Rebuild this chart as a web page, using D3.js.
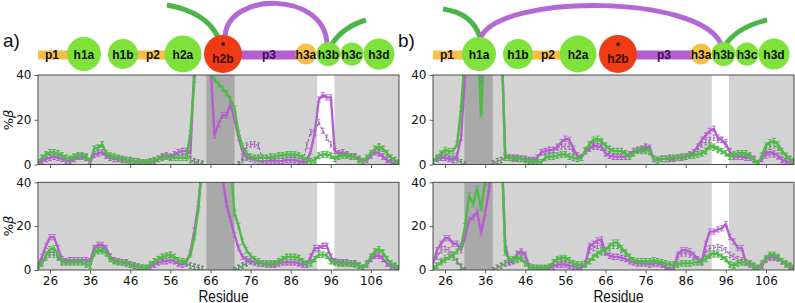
<!DOCTYPE html>
<html><head><meta charset="utf-8">
<script src="https://cdn.jsdelivr.net/npm/d3@7"></script>
<style>body{margin:0;background:#fff;} svg{display:block;}</style>
</head><body><svg id="c" width="795" height="303"></svg>
<script>
// ---------------- DATA ----------------
const residues = d3.range(23, 114); // 23..113
const xTicks = [26, 36, 46, 56, 66, 76, 86, 96, 106];
const yTicks = [0, 20, 40];
const topoNames = ["p1","h1a","h1b","p2","h2a","h2b","p3","h3a","h3b","h3c","h3d"];
const darkBandA = [65, 72], whiteBandA = [92.6, 96.9];
const darkBandB = [30.8, 37.9], whiteBandB = [92.5, 96.8];
const errSize = 1.2;
const _ = null;

// panel a, upper
const aTopPurple = [0.5,1.5,2.5,3,3.5,3,2.5,1.5,1.5,2.5, 3.5,3.5,3,1,4.5,5,5.5,4,3,2.5, 2.5,2,2,1.5,1.5,1,0.5,0.5,1,1.5,
 2.5,3.5,4,3.5,4.5,5.5,6,6,5,45, 60,60,60,45,13,18,22,22,27,20, 12,6,3,2.5,2,1.5,1.5,1.5,1.5,1.5,
 1.5,1.5,2,2,2,1.5,1,1,6,14, 29,31,30,30,6,5,5.5,4.5,3.5,3.5, 2.5,1.5,2,4,5.5,5,3.5,2,1,0.5, 0.5];
const aTopPurpleDash = [0.5,1.5,2.5,3,3.5,3,2.5,1.5,1.5,2.5, 3.5,3.5,3,1,4.5,5,5.5,4,3,2.5, 2.5,2,2,1.5,1.5,1,0.5,0.5,1,1.5,
 2.5,3.5,4,3.5,4.5,5.5,6,6,2,1, 0.5,0,_,_,_,_,_,_,_,_, 0,3,8.5,9,9,8.5,2,1.5,1.5,1.5,
 1.5,1.5,2,2,2,1.5,1,8.5,14.5,14.5, 19,15,12,9,6,5,5.5,4.5,3.5,3.5, 2.5,1.5,2,4,5.5,5,3.5,2,1,0.5, 0.5];
const aTopGreen = [1,3,4.5,5.5,5.5,5,4,3,2.5,3.5, 4,4,3.5,1.5,7,7.5,9,5,4,3.5, 3,2.5,2,2,1.5,1.5,1,1,1.5,2,
 2.5,3,3.5,3,3,3,3,3,14,38, 60,60,48,41,38,36,34,32,29,25, 14,8,5,3.5,3,3,3,3,3.5,3.5,
 4,4,4.5,4.5,4.5,4,3,2,1.5,2, 4,4.5,4.5,4,2.5,3.5,4,4,3.5,3.5, 2,1.5,3,5,7,8,7,5,3,2, 1];
const aTopGreenDash = [1,3,4.5,5.5,5.5,5,4,3,2.5,3.5, 4,4,3.5,1.5,7,7.5,9,5,4,3.5, 3,2.5,2,2,1.5,1.5,1,1,1.5,2,
 2.5,3,3.5,3,3,3,3,3,2,1.5, 1,0.5,_,_,_,_,_,_,_,_, 0,2,3.5,3.5,3,3,3,3,3.5,3.5,
 4,4,4.5,4.5,4.5,4,3,2,1.5,2, 4,4.5,4.5,4,2.5,3.5,4,4,3.5,3.5, 2,1.5,3,5,7,8,7,5,3,2, 1];

// panel a, lower
const aBotPurple = [2,6,11,15,15,10,5,4,4.5,4.5, 4.5,4.5,4.5,4,10,11.5,11.5,10,6,4.5, 4,3.5,3.5,2.5,2,1.5,1,0.5,1.5,2.5,
 3.5,4,4,4.5,4,3,2.5,3.5,8,18, 30,50,60,60,60,60,42,30,23,16, 10,6,5,4,3.5,3,3,2.5,2.5,2.5,
 3,3.5,3.5,3.5,3.5,3,2.5,2.5,6,10, 10,11,11,6,4,3.5,3.5,3.5,3,3, 2,1,2.5,5,6.5,6.5,5,3,1.5,1, 0.5];
const aBotPurpleDash = [2,4,7,8,8,6,3.5,4,4.5,4.5, 4.5,4.5,4.5,4,9,10.5,10.5,9,6,4.5, 4,3.5,3.5,2.5,2,1.5,1,0.5,1.5,2.5,
 3.5,4,4,4.5,4,3,2.5,3,2,1.5, 1,0.5,_,_,_,_,_,_,_,0, 1,2,3,4,3.5,3,3,2.5,2.5,2.5,
 3,3.5,3.5,3.5,3.5,3,2.5,2.5,6,10, 10,11,11,6,4,3.5,3.5,3.5,3,3, 2,1,2.5,5,6.5,6.5,5,3,1.5,1, 0.5];
const aBotGreen = [1,3,6.5,9.5,10,7,4,3.5,3.5,3.5, 3.5,3.5,2.5,2,8,9,9,8,5,4, 3.5,3.5,3,2.5,2,1.5,1,1,2.5,4,
 5,6,6.5,7,6,4.5,4,4,7,15, 28,50,60,60,60,60,60,60,48,26, 20,13,9,6.5,5,4,3,3,3,3,
 4,5,6,6,6,5.5,4,3,3,5, 7,7,6.5,4,3.5,3,3,3,3,2.5, 2,1,3,6,8.5,9.5,8,5,3,2, 1];
const aBotGreenDash = [1,3,5.5,7,7,5.5,3.5,3.5,3.5,3.5, 3.5,3.5,2.5,2,7.5,8.5,8.5,7.5,5,4, 3.5,3.5,3,2.5,2,1.5,1,1,2.5,4,
 5,6,6.5,7,6,4.5,4,3,2,1.5, 1,0.5,_,_,_,_,_,_,_,0, 1,2,3,4,4,4,3,3,3,3,
 4,5,6,6,6,5.5,4,3,3,5, 7,7,6.5,4,3.5,3,3,3,3,2.5, 2,1,3,6,8.5,9.5,8,5,3,2, 1];

// panel b, upper
const bTopPurple = [1.5,2.5,3,3,2.5,2,4,12,40,60, 60,60,36,60,60,60,60,60,4,3, 3,3,2.5,2.5,2,2,3,5.5,6,6.5,
 6.5,8,10,11.5,11,7,4,3,6,7, 8.5,8,8,5,4,3.5,3.5,3.5,3.5,4.5, 6,6.5,7,8,7.5,2.5,2,2.5,2.5,2.5,
 2.5,3,3,3.5,4.5,5.5,8,11,13,15, 16,12,11,9,5.5,3.5,3.5,3.5,3,3, 2.5,0.5,2.5,5,5.5,5,4,2,1.5,1, 1];
const bTopPurpleDash = [1.5,2.5,3,3,2.5,2,3,1,0,_, _,_,_,_,_,0.5,1.5,2,3,3, 3,3,2.5,2.5,2,2,3,5.5,6,6.5,
 6.5,7.5,8,8,8,6,4,3,6,7.5, 8,8,7.5,5,4,3.5,3.5,3.5,3.5,4.5, 6,6.5,7,7.5,7,2.5,2,2.5,2.5,2.5,
 2.5,3,3,3.5,4.5,5.5,7,9,10,11, 12,11,11,10,6,3.5,3.5,3.5,3,3, 2.5,0.5,2.5,4,4.5,4.5,3.5,2,1.5,1, 1];
const bTopGreen = [1.5,3,5,6.5,6,6,9,25,50,60, 60,60,22,60,60,60,60,60,3,3, 2.5,2.5,2.5,2,1.5,1.5,1,1,3,3.5,
 3.5,4,4.5,4.5,3.5,3,2.5,3,6.5,9, 11,11.5,10.5,8.5,7,6,6,6,5,3.5, 5,6.5,6.5,6.5,6,2.5,2,2.5,2.5,3,
 3,3,3.5,3.5,4,4,4.5,5,6,8.5, 8,7,6,5,3.5,4.5,5,5,5,4, 2,0.5,4,8.5,10,10.5,9,6,4,2.5, 1.5];
const bTopGreenDash = [1.5,3,4.5,5,4,3,2,1,0,_, _,_,_,_,_,0.5,1.5,2,3,3, 2.5,2.5,2.5,2,1.5,1.5,1,1,3,3.5,
 3.5,4,4.5,4.5,3.5,3,2.5,3,6,8.5, 10,10.5,10,8,7,6,6,6,5,3.5, 5,6,6,6,5.5,2.5,2,2.5,2.5,3,
 3,3,3.5,3.5,4,4,4.5,5,6,8, 7.5,6.5,6,5,3.5,4.5,5,5,5,4, 2,0.5,3.5,7,8,8.5,7.5,5,3.5,2.5, 1.5];

// panel b, lower
const bBotPurple = [3,9,12,14.5,14.5,12,12,9,15,23, 24,26.5,17,26,37,60,60,60,12,3.5, 4,7.5,8.5,7,1.5,1,0.5,0.5,0.5,1,
 1.5,2.5,2.5,2.5,2,1.5,1,1,3,11, 12,13.5,14,8,6.5,6,6,5.5,5,4, 3.5,3,3,3,2.5,3,3,2.5,1,0,
 0.5,7,9,9,8.5,7,5,3.5,12,17.5, 17.5,18.5,19,21,15,13,10,10,3.5,2.5, 1.5,1,2,5,6,6,5.5,4,2.5,1.5, 0.5];
const bBotPurpleDash = [3,6,9,9.5,9,7,4,1.5,0,_, _,_,_,_,_,0,1,2,3,3.5, 4,7,8,6.5,1.5,1,0.5,0.5,0.5,1,
 1.5,2.5,2.5,2.5,2,1.5,1,1,3,9, 10,11,11.5,8,6.5,6,6,5.5,5,4, 3.5,3,3,3,2.5,3,3,2.5,1,0,
 0.5,6,7.5,7.5,7,6,4.5,3.5,8,10, 10,10.5,10,9,7,6,5,4.5,3.5,2.5, 1.5,1,2,4.5,5.5,5.5,5,4,2.5,1.5, 0.5];
const bBotGreen = [0.5,2,3.5,4.5,6,7,8.5,11,20,34, 30,37,28,40,50,60,60,60,8,5, 5,5,5.5,3,1.5,1,1,1,1,1.5,
 3.5,5,5.5,5.5,4.5,3,2.5,2.5,2.5,4, 6,7.5,8.5,9,11,12.5,12.5,10,8,6, 4.5,4,4,4,4,4.5,4,3.5,3,2.5,
 2.5,2.5,3,3,3,3.5,3.5,4,5,7, 7.5,7.5,6,5,2.5,2,3,3.5,3.5,3, 2,0.5,3,5.5,7,7,6,4,3,2, 1];
const bBotGreenDash = [0.5,2,4,5.5,6,5.5,4,1.5,0,_, _,_,_,_,_,0,1,2,3,4, 4.5,4.5,5,3,1.5,1,1,1,1,1.5,
 3.5,4.5,5,5,4.5,3,2.5,2.5,2.5,4, 5.5,7,8,8.5,10,11,11,9,7.5,6, 4.5,4,4,4,4,4.5,4,3.5,3,2.5,
 2.5,2.5,3,3,3,3.5,3.5,4,5,6.5, 7,7,6,5,2.5,2,3,3.5,3.5,3, 2,0.5,3,5,6.5,6.5,5.5,4,3,2, 1];

// ---------------- STYLE / LAYOUT ----------------
const COL = {purple:'#b45fcf', green:'#4dbb45', purpleDash:'#9d5cb5', greenDash:'#4f9f4b',
  light:'#d3d3d3', dark:'#a9a9a9', circ:'#7ee23a', red:'#f03b17', orange:'#f7bf47',
  arcG:'#4cb548', arcP:'#b468d3', p3:'#b35fd0'};
const svg = d3.select('#c');
const rows = [{y0:164.5, y40:75, labels:false, ymid:120}, {y0:270, y40:182.3, labels:true, ymid:226}];
const panels = [
  {name:'a)', left:37.96, right:399, dark:darkBandA, white:whiteBandA, ylabel:true,
   series:[[aTopPurple,aTopPurpleDash,aTopGreen,aTopGreenDash],[aBotPurple,aBotPurpleDash,aBotGreen,aBotGreenDash]],
   arcs:'a'},
  {name:'b)', left:433, right:794, dark:darkBandB, white:whiteBandB, ylabel:false,
   series:[[bTopPurple,bTopPurpleDash,bTopGreen,bTopGreenDash],[bBotPurple,bBotPurpleDash,bBotGreen,bBotGreenDash]],
   arcs:'b'}
];

let clipId = 0;
panels.forEach(p => {
  const x = d3.scaleLinear().domain([23, 113]).range([p.left, p.right]);
  rows.forEach((r, ri) => {
    const y = d3.scaleLinear().domain([0, 40]).range([r.y0, r.y40]);
    const id = 'clip' + (clipId++);
    svg.append('clipPath').attr('id', id).append('rect')
      .attr('x', p.left).attr('y', r.y40).attr('width', p.right - p.left).attr('height', r.y0 - r.y40);
    const g = svg.append('g');
    const pg = g.append('g').attr('clip-path', `url(#${id})`);
    pg.append('rect').attr('x', p.left).attr('y', r.y40).attr('width', p.right - p.left).attr('height', r.y0 - r.y40).attr('fill', COL.light);
    pg.append('rect').attr('x', x(p.white[0])).attr('y', r.y40).attr('width', x(p.white[1]) - x(p.white[0])).attr('height', r.y0 - r.y40).attr('fill', '#fff');
    pg.append('rect').attr('x', x(p.dark[0])).attr('y', r.y40).attr('width', x(p.dark[1]) - x(p.dark[0])).attr('height', r.y0 - r.y40).attr('fill', COL.dark);

    const [sP, sPd, sG, sGd] = p.series[ri];
    const line = d3.line().defined(d => d[1] !== null).x(d => x(d[0])).y(d => y(d[1]));
    const pts = arr => residues.map((res, i) => [res, arr[i]]);
    const errPath = (arr, cap) => {
      let s = '';
      residues.forEach((res, i) => {
        const v = arr[i];
        if (v === null || v > 42) return;
        const xx = x(res), ya = y(Math.max(0, v - errSize)), yb = y(v + errSize);
        s += `M${xx},${ya}V${yb}M${xx - cap},${ya}H${xx + cap}M${xx - cap},${yb}H${xx + cap}`;
      });
      return s;
    };
    const drawSeries = (arr, color, w, dash, cap) => {
      pg.append('path').attr('d', errPath(arr, cap)).attr('stroke', color).attr('stroke-width', 0.9).attr('fill', 'none').attr('opacity', 0.9);
      pg.append('path').attr('d', line(pts(arr))).attr('stroke', color).attr('stroke-width', w)
        .attr('fill', 'none').attr('stroke-dasharray', dash).attr('stroke-linejoin', 'round');
    };
    drawSeries(sPd, COL.purpleDash, 1.1, '3,2', 1.5);
    drawSeries(sGd, COL.greenDash, 1.1, '3,2', 1.5);
    drawSeries(sP, COL.purple, 2.4, null, 2);
    drawSeries(sG, COL.green, 2.4, null, 2);

    g.append('rect').attr('x', p.left).attr('y', r.y40).attr('width', p.right - p.left).attr('height', r.y0 - r.y40)
      .attr('fill', 'none').attr('stroke', '#3a3a3a').attr('stroke-width', 0.9);
    const xa = d3.axisBottom(x).tickValues(xTicks).tickSize(3.5).tickPadding(3);
    if (!r.labels) xa.tickFormat('');
    const gx = g.append('g').attr('transform', `translate(0,${r.y0})`).call(xa);
    const ya = d3.axisLeft(y).tickValues(yTicks).tickSize(3.5).tickPadding(3);
    const gy = g.append('g').attr('transform', `translate(${p.left},0)`).call(ya);
    [gx, gy].forEach(ax => {
      ax.select('.domain').remove();
      ax.selectAll('line').attr('stroke', '#3a3a3a').attr('stroke-width', 0.8);
      ax.selectAll('text').attr('font-family', 'DejaVu Sans').attr('font-size', 12).attr('fill', '#111');
    });
    if (p.ylabel) {
      const t = svg.append('text').attr('transform', `translate(13,${r.ymid}) rotate(-90)`)
        .attr('text-anchor', 'middle').attr('font-family', 'DejaVu Sans').attr('font-size', 13).attr('fill', '#111');
      t.append('tspan').text('%');
      t.append('tspan').attr('font-style', 'italic').text('β');
    }
    if (r.labels) {
      svg.append('text').attr('x', (p.left + p.right) / 2 + 5).attr('y', 301.5).attr('text-anchor', 'middle')
        .attr('font-family', 'Liberation Sans, Arial, sans-serif').attr('font-size', 16)
        .attr('textLength', 50).attr('lengthAdjust', 'spacingAndGlyphs').attr('fill', '#111').text('Residue');
    }
  });

  // ---- topology diagram ----
  const L = p.left, dg = svg.append('g');
  dg.append('text').attr('x', L - 35).attr('y', 47).attr('font-family', 'Liberation Sans, Arial, sans-serif')
    .attr('font-size', 19).attr('fill', '#111').text(p.name);
  const cy = 54;
  if (p.arcs === 'a') {
    dg.append('path').attr('d', `M${L+129},5 Q${L+168},12 ${L+180},37`).attr('stroke', COL.arcG).attr('stroke-width', 5).attr('fill', 'none');
    dg.append('path').attr('d', `M${L+187},37 C${L+189},-9 ${L+287},-9 ${L+289},44`).attr('stroke', COL.arcP).attr('stroke-width', 5).attr('fill', 'none');
    dg.append('path').attr('d', `M${L+294},44 Q${L+305},27 ${L+328},20`).attr('stroke', COL.arcG).attr('stroke-width', 5).attr('fill', 'none');
  } else {
    dg.append('path').attr('d', `M${L+10},9 Q${L+39},13 ${L+47},37`).attr('stroke', COL.arcG).attr('stroke-width', 5).attr('fill', 'none');
    dg.append('path').attr('d', `M${L+48},37 C${L+68},-6 ${L+266},-6 ${L+288},44`).attr('stroke', COL.arcP).attr('stroke-width', 5).attr('fill', 'none');
    dg.append('path').attr('d', `M${L+293},44 Q${L+305},27 ${L+334},20`).attr('stroke', COL.arcG).attr('stroke-width', 5).attr('fill', 'none');
  }
  const segs = [
    {n:topoNames[0], x0:0, x1:30, tx:14, fill:COL.orange},
    {n:topoNames[3], x0:98, x1:130, tx:115, fill:COL.orange},
    {n:topoNames[6], x0:200, x1:262, tx:231, fill:COL.p3}
  ];
  segs.forEach(s => {
    dg.append('rect').attr('x', L + s.x0).attr('y', 50.5).attr('width', s.x1 - s.x0).attr('height', 9).attr('fill', s.fill);
  });
  const circs = [
    {n:topoNames[1], cx:46, r:17, fill:COL.circ},
    {n:topoNames[2], cx:85, r:15, fill:COL.circ},
    {n:topoNames[4], cx:145, r:18.5, fill:COL.circ},
    {n:topoNames[5], cx:185, r:19, fill:COL.red},
    {n:topoNames[7], cx:268, r:10.5, fill:COL.orange},
    {n:topoNames[8], cx:290.5, r:12, fill:COL.circ},
    {n:topoNames[9], cx:314, r:11.5, fill:COL.circ},
    {n:topoNames[10], cx:341, r:15.5, fill:COL.circ}
  ];
  circs.forEach(c => {
    dg.append('circle').attr('cx', L + c.cx).attr('cy', cy).attr('r', c.r).attr('fill', c.fill);
  });
  const lab = (tx, ty, t, col, fs) => dg.append('text').attr('x', tx).attr('y', ty).attr('text-anchor', 'middle')
    .attr('font-family', 'Liberation Sans, Arial, sans-serif').attr('font-weight', 'bold').attr('font-size', fs || 12)
    .attr('fill', col || '#111').text(t);
  segs.forEach(s => lab(L + s.tx, 58.5, s.n, s.n === 'p3' ? '#3a1050' : '#111'));
  circs.forEach(c => {
    if (c.n === 'h2b') { lab(L + c.cx, 62.5, c.n, '#3a0a00'); lab(L + c.cx, 49.5, '*', '#111', 11); }
    else lab(L + c.cx, 58.5, c.n);
  });
});
</script></body></html>
